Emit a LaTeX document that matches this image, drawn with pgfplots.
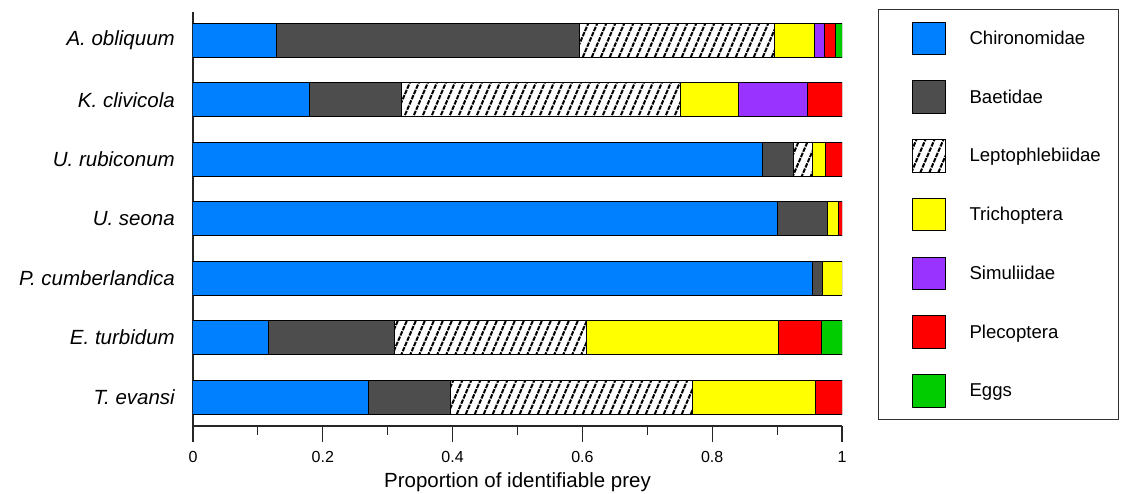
\documentclass[border=0pt]{standalone}
\usepackage{fontspec}
\setmainfont{Liberation Sans}
\usepackage{pgfplots}
\pgfplotsset{compat=1.18}
\usetikzlibrary{patterns}
\pgfdeclarepatternformonly{hatchx}{\pgfqpoint{-1pt}{-1pt}}{\pgfqpoint{10.5pt}{23pt}}{\pgfqpoint{9pt}{21pt}}{%
 \pgfsetlinewidth{2pt}\pgfsetdash{{4.5pt}{1.21pt}}{0pt}%
 \pgfpathmoveto{\pgfqpoint{0pt}{0pt}}\pgfpathlineto{\pgfqpoint{9pt}{21pt}}\pgfusepath{stroke}}
\definecolor{cblue}{RGB}{0,128,255}
\definecolor{cgray}{RGB}{77,77,77}
\definecolor{cyellow}{RGB}{255,255,0}
\definecolor{cpurple}{RGB}{153,51,255}
\definecolor{cred}{RGB}{255,0,0}
\definecolor{cgreen}{RGB}{0,204,0}
\begin{document}
\begin{tikzpicture}
\useasboundingbox (0,0) rectangle (1128pt,493pt);
\begin{axis}[at={(193pt,67pt)}, anchor=south west, scale only axis,
 width=649pt, height=414pt,
 xbar stacked, bar width=34pt,
 xmin=0, xmax=1, ymin=-0.488, ymax=6.48,
 axis x line*=bottom, axis y line*=left,
 axis line style={line width=1.5pt, black!85},
 xtick={0,0.2,0.4,0.6,0.8,1}, xticklabels={0,0.2,0.4,0.6,0.8,1},
 minor xtick={0.1,0.3,0.5,0.7,0.9},
 tick align=outside, major tick length=16pt, minor tick length=9pt,
 xtick style={line width=1.2pt, black!85},
 ytick={0,1,2,3,4,5,6},
 yticklabels={{T. evansi},{E. turbidum\hspace{4pt}},{P. cumberlandica},{U. seona\hspace{5pt}},{U. rubiconum},{K. clivicola},{A. obliquum}},
 ytick style={draw=none},
 /pgf/number format/assume math mode=true,
 xticklabel style={font=\fontsize{16}{18}\selectfont, yshift=-6pt},
 yticklabel style={font=\fontsize{20.5}{24}\selectfont\itshape, inner sep=0pt, xshift=-2pt},
 xlabel={Proportion of identifiable prey},
 xlabel style={font=\fontsize{20.5}{24}\selectfont, yshift=-3pt},
 every axis plot post/.append style={draw=black, line width=1pt,
   legend image code/.code={\path (-33.3pt,0pt); \draw[#1] (0pt,-16.3pt) rectangle (33.4pt,16.3pt);}},
 legend style={at={(axis description cs:1.0555,1.0072)}, anchor=north west,
   draw=black!80, line width=1pt, inner xsep=0pt, inner ysep=12pt,
   row sep=25.15pt, column sep=23.3pt,
   nodes={inner sep=0pt},
   font=\fontsize{18.6}{20}\selectfont},
 legend cell align=left,
]
\addplot[fill=cblue] coordinates {(0.271,0) (0.117,1) (0.955,2) (0.900,3) (0.878,4) (0.179,5) (0.128,6)};
\addlegendentry{\makebox[149pt][l]{Chironomidae}}
\addplot[fill=cgray] coordinates {(0.125,0) (0.194,1) (0.015,2) (0.077,3) (0.047,4) (0.143,5) (0.467,6)};
\addlegendentry{Baetidae}
\addplot[fill=white, postaction={pattern=hatchx}] coordinates {(0.374,0) (0.296,1) (0,2) (0,3) (0.030,4) (0.429,5) (0.301,6)};
\addlegendentry{Leptophlebiidae}
\addplot[fill=cyellow] coordinates {(0.189,0) (0.295,1) (0.030,2) (0.017,3) (0.020,4) (0.089,5) (0.061,6)};
\addlegendentry{Trichoptera}
\addplot[fill=cpurple] coordinates {(0,0) (0,1) (0,2) (0,3) (0,4) (0.107,5) (0.016,6)};
\addlegendentry{Simuliidae}
\addplot[fill=cred] coordinates {(0.041,0) (0.067,1) (0,2) (0.006,3) (0.025,4) (0.053,5) (0.017,6)};
\addlegendentry{Plecoptera}
\addplot[fill=cgreen] coordinates {(0,0) (0.031,1) (0,2) (0,3) (0,4) (0,5) (0.010,6)};
\addlegendentry{Eggs}
\end{axis}
\end{tikzpicture}
\end{document}
